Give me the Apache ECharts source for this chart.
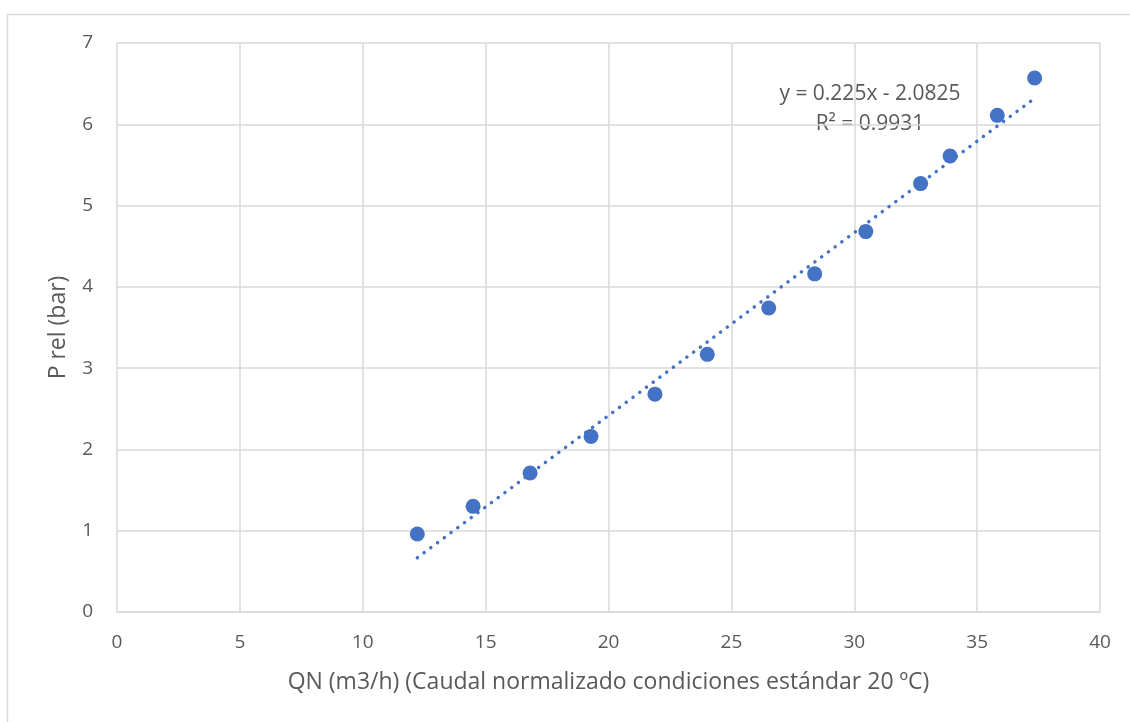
<!DOCTYPE html>
<html>
<head>
<meta charset="utf-8">
<script src="https://cdn.jsdelivr.net/npm/echarts@6/dist/echarts.min.js"></script>
<style>html,body{margin:0;padding:0;background:#fff;}#c{width:1130px;height:722px;}</style>
</head>
<body>
<div id="c"></div>
<script>
const qn = [12.22, 14.49, 16.81, 19.29, 21.89, 24.02, 26.52, 28.39, 30.47, 32.70, 33.90, 35.82, 37.34];
const prel = [0.96, 1.30, 1.71, 2.16, 2.68, 3.17, 3.74, 4.16, 4.68, 5.27, 5.61, 6.11, 6.57];
const trendSlope = 0.225;
const trendIntercept = -2.0825;
const trendR2 = 0.9931;
const xTicks = [0, 5, 10, 15, 20, 25, 30, 35, 40];
const yTicks = [0, 1, 2, 3, 4, 5, 6, 7];

const points = qn.map((x, i) => [x, prel[i]]);
const xMin = Math.min(...qn), xMax = Math.max(...qn);
const trend = [[xMin, trendSlope * xMin + trendIntercept], [xMax, trendSlope * xMax + trendIntercept]];

const chart = echarts.init(document.getElementById('c'));
const txt = '#595959';
const ff = '"Open Sans", sans-serif';
chart.setOption({
  animation: false,
  backgroundColor: '#fff',
  graphic: [{
    type: 'rect', x: 7.5, y: 14.5, z: -10, silent: true,
    shape: { x: 0, y: 0, width: 1140, height: 720 },
    style: { fill: 'none', stroke: '#d9d9d9', lineWidth: 1.5 }
  }, {
    type: 'text', x: 870, y: 94,
    style: { text: 'y = 0.225x - 2.0825', fill: txt, fontSize: 21, fontFamily: ff, textAlign: 'center', textVerticalAlign: 'middle' }
  }, {
    type: 'text', x: 870, y: 124,
    style: { text: 'R² = ' + trendR2, fill: txt, fontSize: 21, fontFamily: ff, textAlign: 'center', textVerticalAlign: 'middle' }
  }],
  grid: { left: 117, right: 30, top: 43, bottom: 110, containLabel: false },
  xAxis: {
    type: 'value', min: xTicks[0], max: xTicks[xTicks.length - 1], interval: 5,
    name: 'QN (m3/h) (Caudal normalizado condiciones estándar 20 ºC)',
    nameLocation: 'middle', nameGap: 59,
    nameTextStyle: { color: txt, fontSize: 23, fontFamily: ff },
    axisLine: { show: true, lineStyle: { color: '#d9d9d9', width: 1.5 } },
    axisTick: { show: false },
    axisLabel: { color: txt, fontSize: 19, margin: 21, fontFamily: ff },
    splitLine: { show: true, lineStyle: { color: '#d9d9d9', width: 1.5 } }
  },
  yAxis: {
    type: 'value', min: yTicks[0], max: yTicks[yTicks.length - 1], interval: 1,
    name: 'P rel (bar)', nameLocation: 'middle', nameGap: 47, nameRotate: 90,
    nameTextStyle: { color: txt, fontSize: 23, fontFamily: ff },
    axisLine: { show: false },
    axisTick: { show: false },
    axisLabel: { color: txt, fontSize: 19, margin: 24, fontFamily: ff },
    splitLine: { show: true, lineStyle: { color: '#d9d9d9', width: 1.5 } }
  },
  series: [{
    type: 'line', data: trend, symbol: 'none', z: 2, silent: true,
    lineStyle: { color: '#4472C4', width: 3.5, type: [0.1, 8.3], cap: 'round' }
  }, {
    type: 'scatter', data: points, symbol: 'circle', symbolSize: 15, z: 3,
    itemStyle: { color: '#4472C4', opacity: 1 }
  }]
});
</script>
</body>
</html>
